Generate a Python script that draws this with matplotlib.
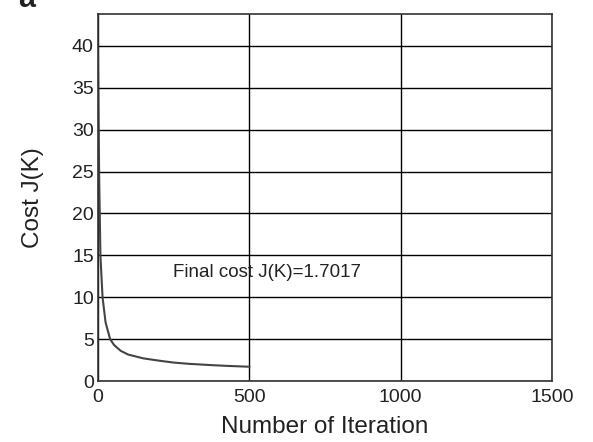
import matplotlib.pyplot as plt
import numpy as np

plt.rcParams['font.family'] = ['Liberation Sans', 'DejaVu Sans']

# values
iters = [0, 2, 4, 8, 15, 25, 40, 53, 75, 100, 150, 207, 250, 300, 372, 430, 500]
cost = [39.5, 31, 24, 15, 10, 7, 5, 4.3, 3.6, 3.15, 2.7, 2.4, 2.2, 2.05, 1.9, 1.8, 1.7017]

xticks = [0, 500, 1000, 1500]
yticks = [0, 5, 10, 15, 20, 25, 30, 35, 40]

fig = plt.figure(figsize=(5.93, 4.42), dpi=100)
ax = fig.add_axes([98/593, 1 - 381/442, 454/593, 367/442])

ax.plot(iters, cost, c='#444444', lw=1.5)
ax.set_xlim(0, 1500)
ax.set_ylim(0, 43.8)
ax.set_xticks(xticks)
ax.set_yticks(yticks)
ax.grid(True, color='black', lw=1.0)
ax.tick_params(length=0, labelsize=14, labelcolor='#222222')
ax.tick_params(axis='x', pad=6)
ax.tick_params(axis='y', pad=3)
for s in ax.spines.values():
    s.set_color('#333333')
    s.set_linewidth(1.2)

ax.set_xlabel('Number of Iteration', fontsize=17.5, labelpad=7, color='#222222')
ax.set_ylabel('Cost J(K)', fontsize=17.5, labelpad=20, color='#222222')
ax.text(248, 12.9, 'Final cost J(K)=1.7017', fontsize=13.5, va='center', color='#222222')

fig.text(18/593, 1 - 14/442, 'a', fontsize=22, fontweight='bold', va='bottom', color='#222222')

plt.savefig('out.png', dpi=100)
